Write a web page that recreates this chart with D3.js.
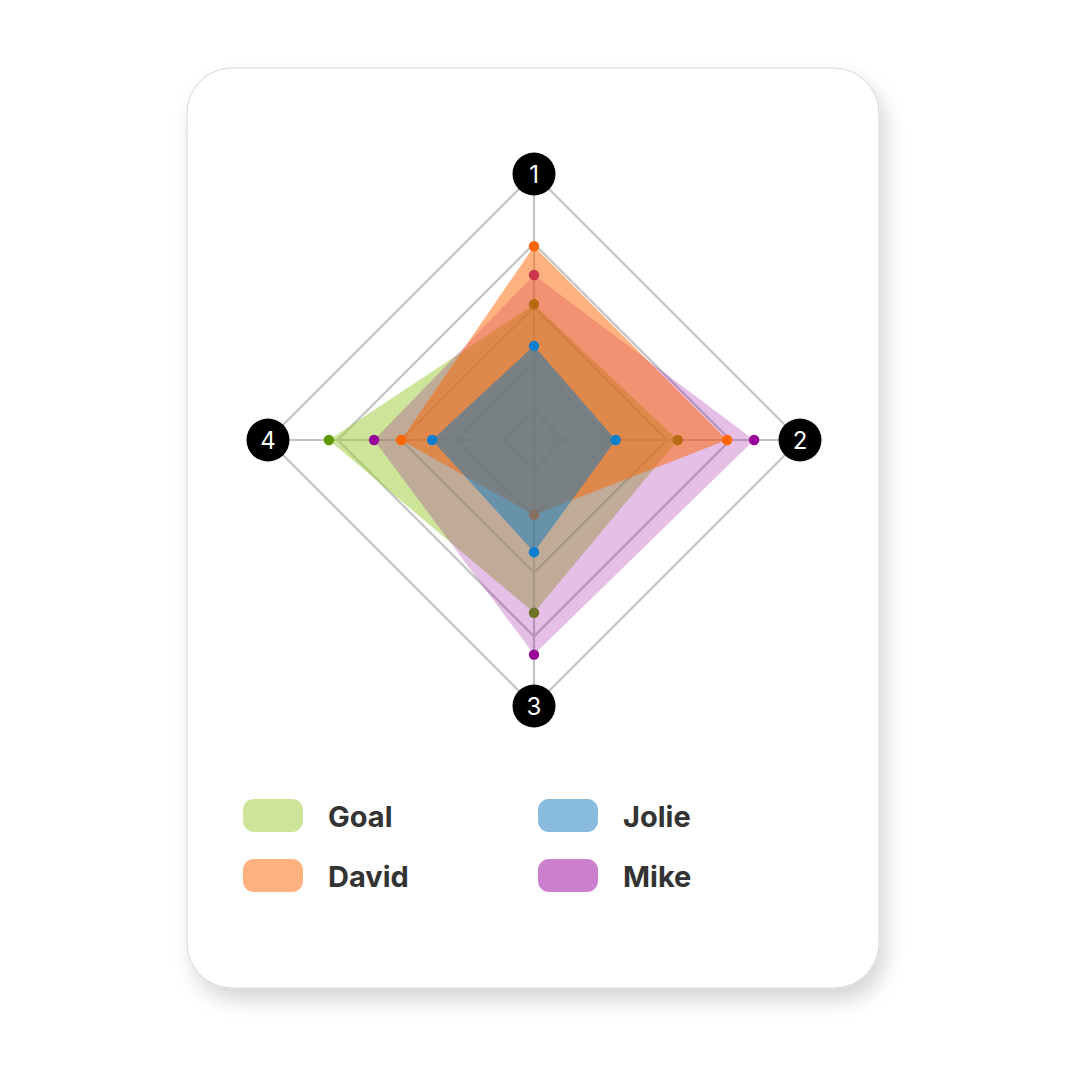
<!DOCTYPE html>
<html><head><meta charset="utf-8">
<script src="https://cdn.jsdelivr.net/npm/d3@7"></script>
<style>html,body{margin:0;padding:0;background:#fff;}svg{display:block}</style>
</head><body>
<script>
// ---- data ----
const axisLabels = ["1", "2", "3", "4"];
const gridLevels = [1, 2, 3, 4, 5];
const goalValues  = [3.05, 3.18, 3.64, 4.13];
const mikeValues  = [3.52, 4.35, 4.27, 3.44];
const davidValues = [3.96, 3.95, 1.97, 3.00];
const jolieValues = [2.33, 2.10, 2.65, 2.47];
const seriesNames = ["Goal", "Mike", "David", "Jolie"];          // drawing order
const legendNames = ["Goal", "David", "Jolie", "Mike"];          // column-major legend order
const fillColors = {Goal: "#99cc33", Mike: "#990099", David: "#ff6600", Jolie: "#1177bb"};
const dotColors  = {Goal: "#5f9900", Mike: "#990099", David: "#ff6600", Jolie: "#0b7fcf"};
const fillOpacity = {Goal: 0.5, Mike: 0.25, David: 0.5, Jolie: 0.5};

const seriesValues = {Goal: goalValues, Mike: mikeValues, David: davidValues, Jolie: jolieValues};

const W = 1080, H = 1080;
const cx = 534, cy = 440, R = 266;

const svg = d3.select("body").append("svg").attr("width", W).attr("height", H);
const defs = svg.append("defs");
const f = defs.append("filter").attr("id", "shadow").attr("x", "-20%").attr("y", "-20%").attr("width", "140%").attr("height", "140%");
f.append("feDropShadow").attr("dx", 6).attr("dy", 12).attr("stdDeviation", 10)
  .attr("flood-color", "#000").attr("flood-opacity", 0.16);

// card
svg.append("rect").attr("x", 187).attr("y", 68).attr("width", 692).attr("height", 920)
  .attr("rx", 45).attr("fill", "#fff").attr("stroke", "#d6d6d6").attr("stroke-width", 1)
  .attr("filter", "url(#shadow)");

const rScale = d3.scalePow().exponent(1.36).domain([0, 5]).range([0, R]);
const angle = d3.scalePoint().domain(axisLabels).range([0, 2 * Math.PI * 3 / 4]);

const g = svg.append("g").attr("transform", `translate(${cx},${cy})`);

const radial = d3.lineRadial().curve(d3.curveLinearClosed);

// grid
g.selectAll("path.grid").data(gridLevels).join("path")
  .attr("class", "grid")
  .attr("d", lv => radial(axisLabels.map(a => [angle(a), rScale(lv)])))
  .attr("fill", "none").attr("stroke", "#c4c4c4").attr("stroke-width", 2.2);

// spokes
g.selectAll("line.spoke").data(axisLabels).join("line")
  .attr("class", "spoke")
  .attr("x1", 0).attr("y1", 0)
  .attr("x2", a => rScale(5) * Math.sin(angle(a)))
  .attr("y2", a => -rScale(5) * Math.cos(angle(a)))
  .attr("stroke", "#c4c4c4").attr("stroke-width", 2.2);

// series
seriesNames.forEach(name => {
  const vals = seriesValues[name];
  const sg = g.append("g");
  sg.append("path")
    .attr("d", radial(vals.map((v, i) => [angle(axisLabels[i]), rScale(v)])))
    .attr("fill", fillColors[name]).attr("fill-opacity", fillOpacity[name]).attr("stroke", "none");
  sg.selectAll("circle").data(vals).join("circle")
    .attr("cx", (v, i) => rScale(v) * Math.sin(angle(axisLabels[i])))
    .attr("cy", (v, i) => -rScale(v) * Math.cos(angle(axisLabels[i])))
    .attr("r", 5.2).attr("fill", dotColors[name]);
});

// axis labels
const lab = g.selectAll("g.lab").data(axisLabels).join("g").attr("class", "lab")
  .attr("transform", a => `translate(${rScale(5) * Math.sin(angle(a))},${-rScale(5) * Math.cos(angle(a))})`);
lab.append("circle").attr("r", 21.5).attr("fill", "#000");
lab.append("text").text(a => a).attr("text-anchor", "middle").attr("dy", "0.36em")
  .attr("fill", "#fff").attr("font-family", "Inter, Roboto, sans-serif").attr("font-size", 24);

// legend
const leg = svg.append("g");
const legItems = leg.selectAll("g").data(legendNames).join("g")
  .attr("transform", (d, i) => `translate(${243 + Math.floor(i / 2) * 295},${799 + (i % 2) * 60})`);
legItems.append("rect").attr("width", 60).attr("height", 33).attr("rx", 11)
  .attr("fill", d => fillColors[d]).attr("fill-opacity", 0.5);
legItems.append("text").text(d => d).attr("x", 85).attr("y", 28)
  .attr("font-family", "Inter, Roboto, sans-serif").attr("font-weight", 700).attr("font-size", 29)
  .attr("fill", "#333");
</script>
</body></html>
